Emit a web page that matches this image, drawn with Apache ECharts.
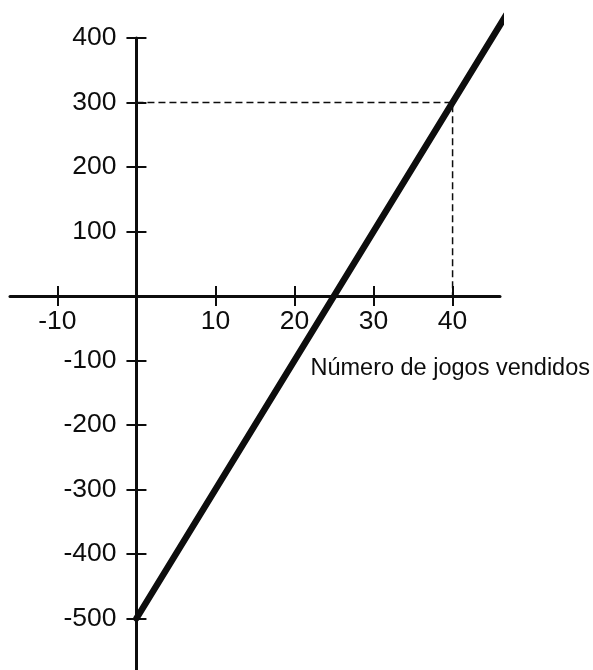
<!DOCTYPE html>
<html>
<head>
<meta charset="utf-8">
<script src="https://cdn.jsdelivr.net/npm/echarts@6/dist/echarts.min.js"></script>
<style>
html,body{margin:0;padding:0;background:#fff;overflow:hidden;}
#c{width:593px;height:670px;}
</style>
</head>
<body>
<div id="c"></div>
<script>
// Data
const xTickValues = [-10, 10, 20, 30, 40];
const yTickValues = [400, 300, 200, 100, -100, -200, -300, -400, -500];
const profitLine = [[0, -500], [46.8, 436]];
const guideLine = [[0, 300], [40, 300], [40, 0]];
const xAxisTitle = 'Número de jogos vendidos';

const FONT = '"Liberation Sans", Arial, Helvetica, sans-serif';
const INK = '#0d0d0d';

// Plot frame (px) and value ranges
const W = 593, H = 670;
const GRID_LEFT = 10, GRID_WIDTH = 490, GRID_TOP = 38, GRID_BOTTOM = 0;
const X_MIN = -16, X_MAX = 46, Y_MIN = -580, Y_MAX = 400;
const gridHeight = H - GRID_TOP - GRID_BOTTOM;
const zeroX = GRID_LEFT + (0 - X_MIN) / (X_MAX - X_MIN) * GRID_WIDTH;
const zeroY = GRID_TOP + (Y_MAX - 0) / (Y_MAX - Y_MIN) * gridHeight;
const yOffset = -(zeroX - GRID_LEFT);          // move y axis from left edge to x = 0
const xOffset = -((H - GRID_BOTTOM) - zeroY);   // move x axis from bottom edge to y = 0

const chart = echarts.init(document.getElementById('c'), null, {renderer: 'canvas'});

const xBase = {
  type: 'value', min: X_MIN, max: X_MAX, gridIndex: 0, position: 'bottom', offset: xOffset,
  splitLine: {show: false}
};
const yBase = {
  type: 'value', min: Y_MIN, max: Y_MAX, gridIndex: 0, position: 'left', offset: yOffset,
  splitLine: {show: false}
};

chart.setOption({
  animation: false,
  backgroundColor: '#fff',
  grid: {left: GRID_LEFT, width: GRID_WIDTH, top: GRID_TOP, bottom: GRID_BOTTOM, containLabel: false, outerBoundsMode: 'none'},
  xAxis: [
    Object.assign({}, xBase, {
      axisLine: {show: true, onZero: false, lineStyle: {color: INK, width: 3}},
      axisTick: {show: true, inside: false, length: 10, customValues: xTickValues, lineStyle: {color: INK, width: 2}},
      axisLabel: {show: true, customValues: xTickValues, margin: 12, color: INK, fontSize: 26.5, fontFamily: FONT},
      name: xAxisTitle,
      nameLocation: 'end',
      nameGap: 90,
      nameTextStyle: {color: INK, fontSize: 23.5, fontFamily: FONT, align: 'right', verticalAlign: 'top', padding: [61, 0, 0, 0]}
    }),
    Object.assign({}, xBase, {
      axisLine: {show: false, onZero: false},
      axisTick: {show: true, inside: true, length: 10, customValues: xTickValues, lineStyle: {color: INK, width: 2}},
      axisLabel: {show: false}
    })
  ],
  yAxis: [
    Object.assign({}, yBase, {
      axisLine: {show: true, onZero: false, lineStyle: {color: INK, width: 3}},
      axisTick: {show: true, inside: false, length: 10, customValues: yTickValues, lineStyle: {color: INK, width: 2}},
      axisLabel: {show: true, customValues: yTickValues, margin: 20, color: INK, fontSize: 26.5, fontFamily: FONT}
    }),
    Object.assign({}, yBase, {
      axisLine: {show: false, onZero: false},
      axisTick: {show: true, inside: true, length: 10, customValues: yTickValues, lineStyle: {color: INK, width: 2}},
      axisLabel: {show: false}
    })
  ],
  series: [
    {
      type: 'line', xAxisIndex: 0, yAxisIndex: 0,
      data: guideLine, symbol: 'none', clip: false,
      lineStyle: {color: INK, width: 1.5, type: [7, 4]}
    },
    {
      type: 'line', xAxisIndex: 0, yAxisIndex: 0,
      data: profitLine, symbol: 'none', clip: false,
      lineStyle: {color: INK, width: 6.5, cap: 'round'}
    }
  ]
});
</script>
</body>
</html>
